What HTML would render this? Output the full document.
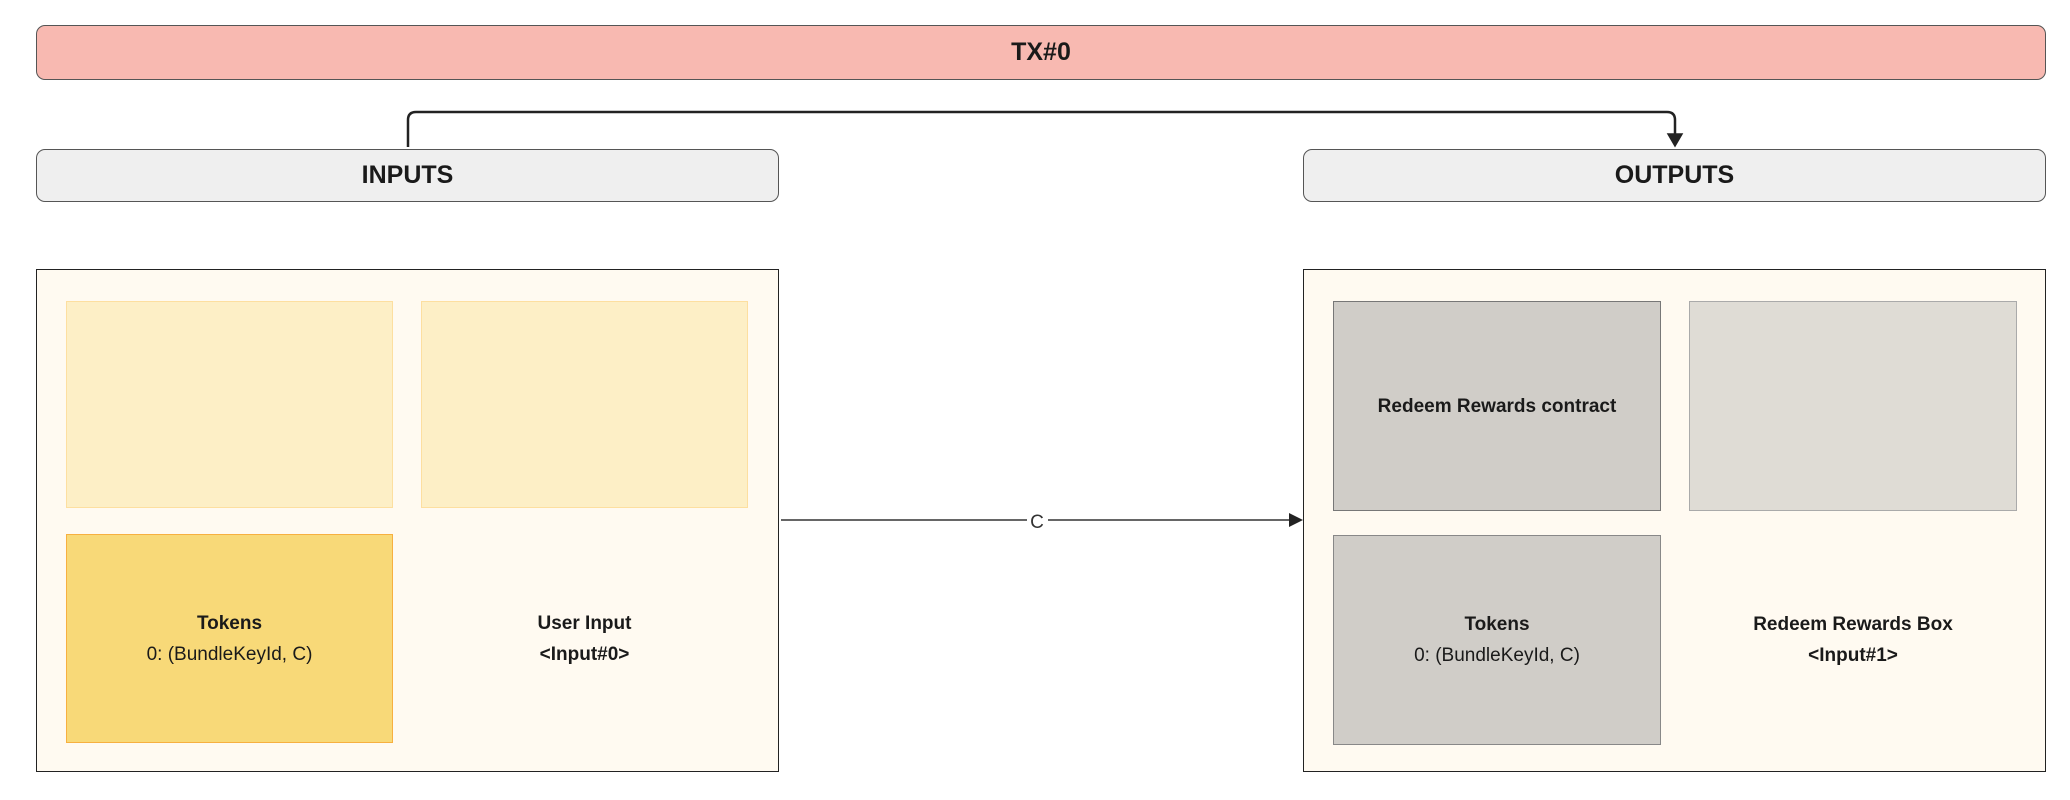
<!DOCTYPE html>
<html><head><meta charset="utf-8"><style>
body{margin:0;width:2070px;height:800px;background:#fff;position:relative;overflow:hidden;font-family:"Liberation Sans",sans-serif;color:#1a1a1a}
.a{position:absolute;box-sizing:border-box;display:flex;flex-direction:column;align-items:center;justify-content:center;text-align:center}
.hdr{border:1.5px solid #555;border-radius:9px;font-weight:bold;font-size:25px}
.t{font-size:19px;line-height:31px}
b{font-weight:bold}
</style></head><body>
<div class="a hdr" style="left:36px;top:25px;width:2010px;height:55px;background:#f8b9b1">TX#0</div>
<div class="a hdr" style="left:36px;top:149px;width:743px;height:53px;background:#efefef">INPUTS</div>
<div class="a hdr" style="left:1303px;top:149px;width:743px;height:53px;background:#efefef">OUTPUTS</div>

<div class="a" style="left:36px;top:269px;width:743px;height:503px;background:#fffaf1;border:1.5px solid #222"></div>
<div class="a" style="left:66px;top:301px;width:327px;height:207px;background:#fdefc6;border:1.5px solid #fddfa0"></div>
<div class="a" style="left:421px;top:301px;width:327px;height:207px;background:#fdefc6;border:1.5px solid #fddfa0"></div>
<div class="a t" style="left:66px;top:534px;width:327px;height:209px;background:#f8d978;border:1.5px solid #f7b040"><b>Tokens</b><span>0: (BundleKeyId, C)</span></div>
<div class="a t" style="left:421px;top:534px;width:327px;height:209px"><b>User Input</b><b>&lt;Input#0&gt;</b></div>

<div class="a" style="left:1303px;top:269px;width:743px;height:503px;background:#fffaf1;border:1.5px solid #222"></div>
<div class="a t" style="left:1333px;top:301px;width:328px;height:210px;background:#d0cdc8;border:1.5px solid #777"><b>Redeem Rewards contract</b></div>
<div class="a" style="left:1689px;top:301px;width:328px;height:210px;background:#dfdcd5;border:1.5px solid #aaa"></div>
<div class="a t" style="left:1333px;top:535px;width:328px;height:210px;background:#d0cdc8;border:1.5px solid #888"><b>Tokens</b><span>0: (BundleKeyId, C)</span></div>
<div class="a t" style="left:1689px;top:535px;width:328px;height:210px"><b>Redeem Rewards Box</b><b>&lt;Input#1&gt;</b></div>

<svg style="position:absolute;left:0;top:0" width="2070" height="800">
<path d="M408 147 V120 Q408 112 416 112 H1667 Q1675 112 1675 120 V138" fill="none" stroke="#222" stroke-width="2.5"/>
<path d="M1668 134 L1675 146 L1682 134 Z" fill="#222" stroke="#222" stroke-width="1.5"/>
<path d="M781 520 H1027 M1048 520 H1293" fill="none" stroke="#333" stroke-width="1.5"/>
<path d="M1289 513 L1303 520 L1289 527 Z" fill="#222"/>
<text x="1037" y="528" font-size="19" text-anchor="middle" fill="#333" font-family="Liberation Sans, sans-serif">C</text>
</svg>
</body></html>
